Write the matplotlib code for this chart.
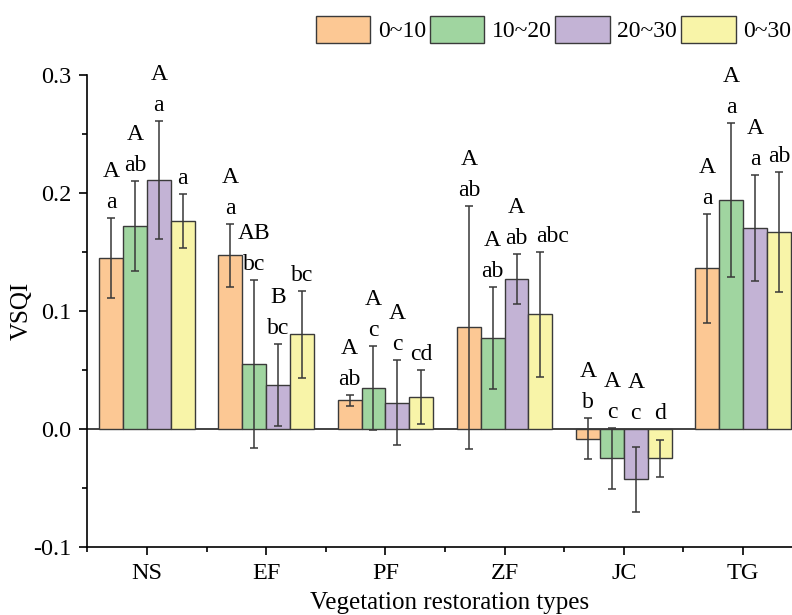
import matplotlib
matplotlib.use("Agg")
import matplotlib.pyplot as plt
from matplotlib.patches import Patch
from matplotlib.ticker import MultipleLocator, FixedLocator
import numpy as np

plt.rcParams['font.family'] = ['Liberation Serif', 'DejaVu Serif']

categories = ["NS", "EF", "PF", "ZF", "JC", "TG"]
series = ["0~10", "10~20", "20~30", "0~30"]

means_0_10 = [0.145, 0.147, 0.024, 0.086, -0.0085, 0.136]
means_10_20 = [0.172, 0.055, 0.0345, 0.077, -0.025, 0.194]
means_20_30 = [0.211, 0.037, 0.022, 0.127, -0.043, 0.170]
means_0_30 = [0.176, 0.080, 0.027, 0.097, -0.025, 0.167]

err_0_10 = [0.034, 0.027, 0.0045, 0.103, 0.0175, 0.046]
err_10_20 = [0.038, 0.071, 0.0355, 0.043, 0.026, 0.065]
err_20_30 = [0.050, 0.035, 0.036, 0.021, 0.0275, 0.045]
err_0_30 = [0.023, 0.037, 0.023, 0.053, 0.0155, 0.051]

upper_0_10 = ["A", "A", "A", "A", "A", "A"]
upper_10_20 = ["A", "AB", "A", "A", "A", "A"]
upper_20_30 = ["A", "B", "A", "A", "A", "A"]
upper_0_30 = ["", "", "", "", "", ""]

lower_0_10 = ["a", "a", "ab", "ab", "b", "a"]
lower_10_20 = ["ab", "bc", "c", "ab", "c", "a"]
lower_20_30 = ["a", "bc", "c", "ab", "c", "a"]
lower_0_30 = ["a", "bc", "cd", "abc", "d", "ab"]

yticks = [-0.1, 0.0, 0.1, 0.2, 0.3]

colors = ["#FCC894", "#A0D5A0", "#C3B3D5", "#F8F4A8"]
means = [means_0_10, means_10_20, means_20_30, means_0_30]
errs = [err_0_10, err_10_20, err_20_30, err_0_30]
uppers = [upper_0_10, upper_10_20, upper_20_30, upper_0_30]
lowers = [lower_0_10, lower_10_20, lower_20_30, lower_0_30]

# horizontal nudges (points) for labels that the reference places off-centre
label_dx = {(3, 3): 8.5}

FS = 17
TICK_FS = 17.5
LAB_FS = 18
fig = plt.figure(figsize=(7.92, 6.15), dpi=100)
ax = fig.add_axes([87.3 / 792, (615 - 546.7) / 615, 715.4 / 792, 471.7 / 615])

x = np.arange(len(categories))
w = 0.2
for i in range(4):
    xs = x + (i - 1.5) * w
    ax.bar(xs, means[i], width=w, color=colors[i], edgecolor="#3a3a3a",
           linewidth=1.0, zorder=2)
    ax.errorbar(xs, means[i], yerr=errs[i], fmt="none", ecolor="#383838",
                elinewidth=1.1, capsize=2.9, capthick=1.1, zorder=3)
    for j in range(len(categories)):
        top = max(means[i][j] + errs[i][j], 0.0)
        dx = label_dx.get((j, i), 0)
        ax.annotate(lowers[i][j], (xs[j], top), xytext=(dx, 7.2),
                    textcoords="offset points", ha="center", va="baseline",
                    fontsize=FS, annotation_clip=False)
        if uppers[i][j]:
            ax.annotate(uppers[i][j], (xs[j], top), xytext=(dx, 29.5),
                        textcoords="offset points", ha="center", va="baseline",
                        fontsize=FS, annotation_clip=False)

ax.set_xlim(-0.5, 5.5)
ax.set_ylim(-0.1, 0.3)
ax.axhline(0, color="#222222", linewidth=1.2, zorder=1)
ax.spines["top"].set_visible(False)
ax.spines["right"].set_visible(False)
ax.spines["left"].set_linewidth(1.2)
ax.spines["bottom"].set_linewidth(1.2)

ax.set_xticks(x)
ax.set_xticklabels(categories)
ax.xaxis.set_minor_locator(FixedLocator(np.arange(-0.5, 6.0, 1.0)))
ax.set_yticks(yticks)
ax.set_yticklabels([f"{v:.1f}" for v in yticks])
ax.yaxis.set_minor_locator(MultipleLocator(0.05))
ax.tick_params(axis="both", which="major", direction="out", length=6,
               width=1.2, labelsize=TICK_FS, pad=5.5)
ax.tick_params(axis="both", which="minor", direction="out", length=3.3,
               width=1.2)
ax.tick_params(axis="x", which="major", pad=6)

ax.set_ylabel("VSQI", fontsize=LAB_FS, labelpad=0.5)
ax.set_xlabel("Vegetation restoration types", fontsize=LAB_FS)
ax.xaxis.label.set_va("baseline")
ax.xaxis.set_label_coords(0.5063, -(609 - 546.7) / 471.7)

handles = [Patch(facecolor=c, edgecolor="#3a3a3a", linewidth=1.0) for c in colors]
fig.legend(handles, series, loc="upper right", ncol=4, frameon=False,
           bbox_to_anchor=(791 / 792, 1 - 16 / 615), fontsize=FS,
           handlelength=2.32, handleheight=1.36, handletextpad=0.31,
           columnspacing=0.16, borderpad=0, borderaxespad=0)

fig.savefig("out.png", dpi=100)
